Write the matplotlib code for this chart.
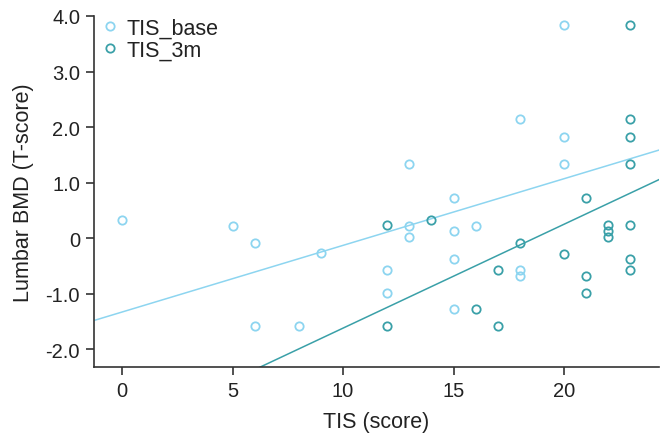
import numpy as np
import matplotlib
matplotlib.use('Agg')
import matplotlib.pyplot as plt

plt.rcParams['font.family'] = ['Liberation Sans', 'DejaVu Sans']

# TIS_base scores and lumbar BMD
base_x = [0, 5, 6, 6, 8, 9, 12, 12, 13, 13, 13, 15, 15, 15, 15, 16, 18, 18, 18, 20, 20, 20]
base_y = [0.32, 0.22, -0.08, -1.58, -1.58, -0.27, -0.58, -0.98, 1.33, 0.22, 0.02,
          0.73, 0.13, -0.38, -1.28, 0.22, 2.14, -0.58, -0.68, 3.84, 1.83, 1.33]

# TIS_3m scores and lumbar BMD
m3_x = [12, 12, 14, 16, 17, 17, 18, 20, 21, 21, 21, 22, 22, 22,
        23, 23, 23, 23, 23, 23, 23]
m3_y = [0.23, -1.58, 0.32, -1.28, -0.58, -1.58, -0.08, -0.28, 0.73, -0.68, -0.98,
        0.23, 0.13, 0.02, 3.84, 2.14, 1.83, 1.33, 0.23, -0.38, -0.58]

# fitted lines (intercept, slope)
base_fit = (-1.33, 0.120)
m3_fit = (-3.49, 0.187)

light = '#8dd5f0'
dark = '#3aa0a8'

fig = plt.figure(figsize=(6.6, 4.39), dpi=100)
ax = fig.add_axes([0.1424, 0.1617, 0.8561, 0.7996])

xmin, xmax = -1.27, 24.3
ymin, ymax = -2.32, 4.0

xs = np.array([xmin, xmax])
ax.plot(xs, base_fit[0] + base_fit[1] * xs, color=light, lw=1.1, zorder=1)
ax.plot(xs, m3_fit[0] + m3_fit[1] * xs, color=dark, lw=1.1, zorder=1)

ax.plot(base_x, base_y, 'o', ms=6, mfc='none', mec=light, mew=1.3, ls='none',
        label='TIS_base', zorder=2)
ax.plot(m3_x, m3_y, 'o', ms=6, mfc='none', mec=dark, mew=1.3, ls='none',
        label='TIS_3m', zorder=2)

ax.set_xlim(xmin, xmax)
ax.set_ylim(ymin, ymax)
ax.set_xticks([0, 5, 10, 15, 20])
ax.set_yticks([-2, -1, 0, 1, 2, 3, 4])
ax.set_yticklabels(['-2.0', '-1.0', '0', '1.0', '2.0', '3.0', '4.0'])

for s in ['top', 'right']:
    ax.spines[s].set_visible(False)
for s in ['left', 'bottom']:
    ax.spines[s].set_color('#333333')
    ax.spines[s].set_linewidth(1.2)

ax.tick_params(direction='out', length=6, width=1.2, color='#333333',
               labelsize=14.5, labelcolor='#222222', pad=4)

ax.set_xlabel('TIS (score)', fontsize=15.5, color='#222222', labelpad=8)
ax.set_ylabel('Lumbar BMD (T-score)', fontsize=15.5, color='#222222', labelpad=8)

ax.legend(loc='upper left', bbox_to_anchor=(-0.025, 1.05), frameon=False,
          fontsize=15.5, handletextpad=0.25, labelspacing=0.05, handlelength=1.0,
          labelcolor='#222222')

fig.savefig('out.png', dpi=100)
